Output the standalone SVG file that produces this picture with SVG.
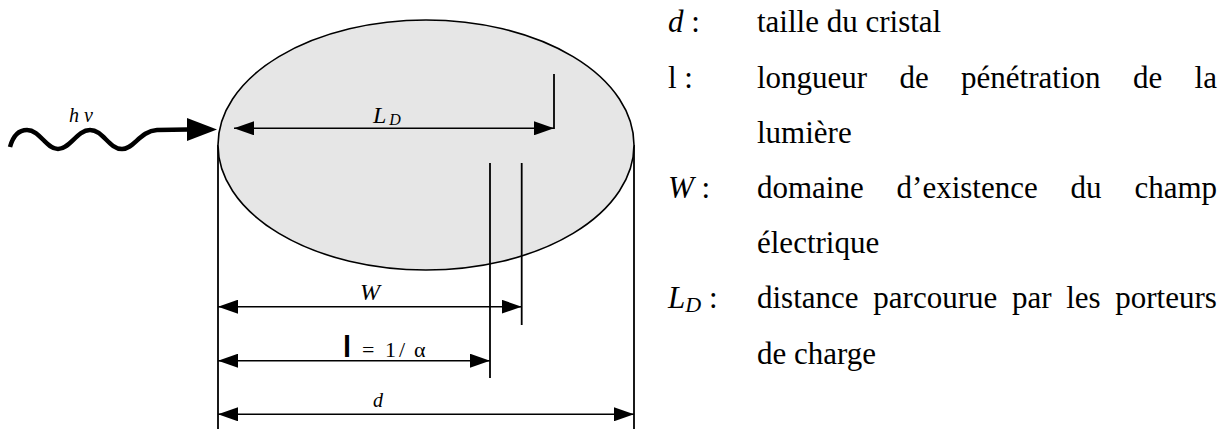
<svg xmlns="http://www.w3.org/2000/svg" width="1231" height="429" viewBox="0 0 1231 429">
<style>
  .dim { stroke:#000; stroke-width:1.5; fill:none; marker-start:url(#ah); marker-end:url(#ah); }
  .ext { stroke:#000; stroke-width:1.8; fill:none; }
  .serif { font-family:'Liberation Serif', 'Times New Roman', Times, 'DejaVu Serif', serif; }
  .lbl { font-style:italic; fill:#000; }
  .body { font-size:31px; fill:#000; }
  .it { font-style:italic; }
</style>
<defs>
  <marker id="ah" viewBox="0 0 20 14" refX="20" refY="7" markerWidth="20" markerHeight="14" markerUnits="userSpaceOnUse" orient="auto-start-reverse">
    <path d="M0,0 L20,7 L0,14 z" fill="#000"/>
  </marker>
</defs>

<g id="crystal">
  <line class="ext" x1="218" y1="145" x2="218" y2="429"/>
  <line class="ext" x1="634" y1="145" x2="634" y2="429"/>
  <ellipse cx="426" cy="145" rx="208" ry="125" fill="#e6e6e6" stroke="#000" stroke-width="1.6"/>
</g>

<g id="photon">
  <path d="M10,147 C13,136 19,130 27,130 C40,130 46,149 58,149 C70,149 77,130 90,130 C103,130 109,149 122,149 C134,149 140,131 157,130 L188,129.5" fill="none" stroke="#000" stroke-width="4.5"/>
  <polygon points="187,118 217,129.5 187,141" fill="#000"/>
  <text class="lbl serif" x="69" y="122" font-size="20">h ν</text>
</g>

<g id="connectors">
  <line class="ext" x1="554" y1="74" x2="554" y2="129"/>
  <line class="ext" x1="490" y1="163" x2="490" y2="378"/>
  <line class="ext" x1="521.7" y1="163" x2="521.7" y2="325"/>
  <line class="dim" x1="234" y1="128.3" x2="554" y2="128.3"/>
  <line class="dim" x1="218" y1="306.7" x2="521.7" y2="306.7"/>
  <line class="dim" x1="218" y1="360.7" x2="490" y2="360.7"/>
  <line class="dim" x1="218" y1="414.3" x2="634" y2="414.3"/>
</g>

<g id="dim-labels">
  <text id="lbl-LD" class="lbl serif" x="373" y="122.7" font-size="24">L<tspan font-size="16" dy="1.8" dx="3">D</tspan></text>
  <text id="lbl-W" class="lbl serif" x="360" y="300" font-size="24">W</text>
  <g id="lbl-l">
    <text x="343" y="356.7" font-family="'Liberation Sans', Arial, sans-serif" font-size="29" font-weight="bold">l</text>
    <text class="serif" y="356.7" font-size="22"><tspan x="362">=</tspan><tspan x="385">1</tspan><tspan x="399">/</tspan><tspan x="414">α</tspan></text>
  </g>
  <text id="lbl-d" class="lbl serif" x="373" y="406.7" font-size="20">d</text>
</g>

<g id="legend" class="body serif">
  <text x="668" y="32.3"><tspan class="it">d</tspan> :</text>
  <text x="757" y="32.3">taille du cristal</text>

  <text x="668" y="87.5">l :</text>
  <text y="87.5"><tspan x="757">longueur</tspan><tspan x="899.5">de</tspan><tspan x="961.1">pénétration</tspan><tspan x="1132.9">de</tspan><tspan x="1194.6">la</tspan></text>
  <text x="757" y="142.7">lumière</text>

  <text x="668" y="197.9"><tspan class="it">W</tspan> :</text>
  <text y="197.9"><tspan x="757">domaine</tspan><tspan x="896.6">d’existence</tspan><tspan x="1070.6">du</tspan><tspan x="1134.4">champ</tspan></text>
  <text x="757" y="253.1">électrique</text>

  <text x="668" y="308.3"><tspan class="it">L</tspan><tspan class="it" font-size="22" dy="4">D</tspan><tspan dy="-4"> :</tspan></text>
  <text y="308.3"><tspan x="757">distance</tspan><tspan x="873.3">parcourue</tspan><tspan x="1011.9">par</tspan><tspan x="1066.2">les</tspan><tspan x="1115.3">porteurs</tspan></text>
  <text x="757" y="363.5">de charge</text>
</g>
</svg>
